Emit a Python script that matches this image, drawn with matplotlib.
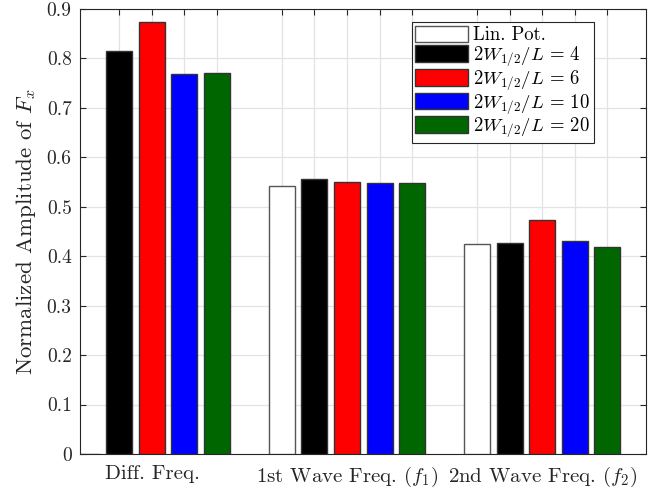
import numpy as np
import matplotlib
matplotlib.use("Agg")
import matplotlib.pyplot as plt

plt.rcParams["font.family"] = "serif"
plt.rcParams["font.serif"] = ["cmr10"]
plt.rcParams["mathtext.fontset"] = "cm"
plt.rcParams["axes.formatter.use_mathtext"] = True

groups = ["Diff. Freq.", r"1st Wave Freq. $(f_1)$", r"2nd Wave Freq. $(f_2)$"]
series = ["Lin. Pot.", r"$2W_{1/2}/L\,=\,4$", r"$2W_{1/2}/L\,=\,6$",
          r"$2W_{1/2}/L\,=\,10$", r"$2W_{1/2}/L\,=\,20$"]
lin_pot = [np.nan, 0.541, 0.424]
w_4 = [0.816, 0.556, 0.426]
w_6 = [0.873, 0.550, 0.473]
w_10 = [0.768, 0.549, 0.431]
w_20 = [0.771, 0.549, 0.419]
values = [lin_pot, w_4, w_6, w_10, w_20]

colors = ["#ffffff", "#000000", "#ff0000", "#0000ff", "#006600"]
edges = ["#555555", "#333333", "#333333", "#333333", "#333333"]
text_c = "#262626"

fig = plt.figure(figsize=(6.65, 4.91), dpi=100)
ax = fig.add_axes([0.1203, 0.0754, 0.8511, 0.9063])

step = 1.0 / 6
width = step * 0.8
xg = np.arange(len(groups))
tick_pos = []
for j, (vals, c, ec, lab) in enumerate(zip(values, colors, edges, series)):
    xs = xg + (j - 2) * step
    v = np.array(vals, dtype=float)
    ax.bar(xs, np.nan_to_num(v), width, color=c, edgecolor=ec, linewidth=1.0,
           label=lab, zorder=3)
    tick_pos += list(xs[np.isfinite(v)])

tick_pos = sorted(tick_pos)
ax.set_xticks(tick_pos)
labels = []
for t in tick_pos:
    k = int(round(t))
    labels.append(groups[k] if abs(t - k) < 1e-6 else "")
ax.set_xticklabels(labels)

ax.set_xlim(-0.369, 2.533)
ax.set_ylim(0, 0.9)
ax.set_yticks(np.arange(0, 0.91, 0.1))
ax.set_yticklabels(["0"] + [f"{v:.1f}" for v in np.arange(0.1, 0.91, 0.1)])

ax.grid(True, color="#e3e3e3", linewidth=0.9, zorder=0)
ax.set_axisbelow(True)
ax.tick_params(direction="in", top=True, right=True, length=4, width=0.8,
               colors=text_c, labelsize=14, pad=6)
ax.tick_params(axis="x", labelsize=15, pad=8)
for s in ax.spines.values():
    s.set_color(text_c)
    s.set_linewidth(0.8)

ax.set_ylabel(r"Normalized Amplitude of $F_x$", fontsize=16.5, color=text_c,
              labelpad=6)

leg = ax.legend(loc="upper right", bbox_to_anchor=(0.908, 0.971), fontsize=13.5,
                fancybox=False, framealpha=1, edgecolor=text_c,
                handlelength=2.8, handleheight=1.0, handletextpad=0.3,
                labelspacing=0.0, borderpad=0.2, borderaxespad=0)
leg.get_frame().set_linewidth(0.8)

fig.savefig("out.png", dpi=100)
